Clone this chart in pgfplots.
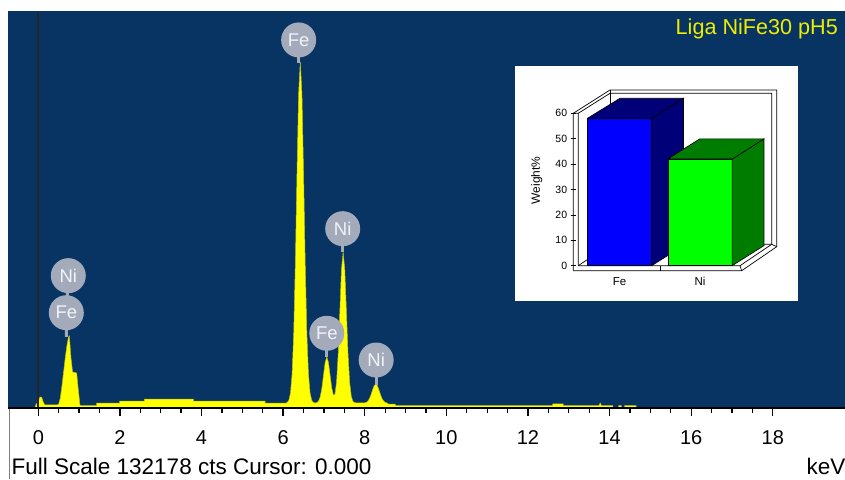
\documentclass[border=0pt]{standalone}
\usepackage{pgfplots}
\pgfplotsset{compat=1.18}
\usepackage{fontspec}
\setmainfont{Liberation Sans}
\definecolor{bgblue}{RGB}{8,52,100}
\definecolor{specyellow}{RGB}{255,255,0}
\definecolor{specedge}{RGB}{190,190,30}
\definecolor{lblgrey}{RGB}{163,171,187}
\definecolor{lbltext}{RGB}{240,243,247}
\definecolor{titleyellow}{RGB}{238,238,0}
\definecolor{feblue}{RGB}{0,0,255}
\definecolor{fedark}{RGB}{0,0,120}
\definecolor{nigreen}{RGB}{0,255,0}
\definecolor{nidark}{RGB}{0,125,0}
\tikzset{lbl/.style={circle, fill=lblgrey, text=lbltext, minimum size=35pt, inner sep=0pt, font=\fontsize{18.5}{20}\selectfont},
         stem/.style={lblgrey, line width=3pt}}
\pgfplotsset{frame/.style={black, line width=0.7pt, mark=none}}
\begin{document}
\begin{tikzpicture}
\useasboundingbox (0pt,0pt) rectangle (845pt,479pt);
\fill[white] (0pt,0pt) rectangle (845pt,479pt);
\begin{axis}[
  at={(8pt,71pt)}, anchor=south west,
  width=837pt, height=397pt, scale only axis,
  xmin=-0.743, xmax=19.77, ymin=0, ymax=132178,
  axis background/.style={fill=bgblue},
  axis line style={draw=none},
  xtick pos=left,
  xtick={0,2,...,18}, minor x tick num=3,
  tick align=outside, major tick length=8pt, minor tick length=5pt,
  xtick style={black, line width=1.3pt},
  ytick=\empty,
  xticklabel style={font=\fontsize{20}{22}\selectfont, anchor=base, inner sep=0pt, yshift=-28pt},
  /pgf/number format/assume math mode=true,
]
\addplot[fill=specyellow, draw=specedge, line width=0.5pt] table {
x y
-0.09 0
-0.06 1000
0.00 2330
0.04 3660
0.08 3660
0.12 2000
0.16 1000
0.46 1000
0.50 1300
0.54 3330
0.58 7330
0.62 12000
0.66 16650
0.70 20650
0.74 23650
0.76 24000
0.80 16650
0.84 12000
0.94 11650
0.98 6000
1.02 1000
1.04 830
1.43 830
1.43 1600
1.99 1600
1.99 2260
2.60 2260
2.60 2930
3.80 2930
3.80 2260
5.56 2260
5.56 1600
6.06 1600
6.10 1865
6.14 2565
6.18 4930
6.22 11290
6.26 25040
6.30 48350
6.34 78190
6.38 104560
6.42 115220
6.46 104560
6.50 78190
6.54 48350
6.58 25040
6.62 11290
6.66 4930
6.70 2565
6.74 1865
6.78 1665
6.83 1830
6.87 2330
6.91 3730
6.95 6630
6.99 10960
7.03 15180
7.07 16980
7.11 15180
7.15 10960
7.19 6730
7.23 4300
7.27 4530
7.31 8620
7.35 17980
7.39 32170
7.43 46050
7.47 51950
7.51 46050
7.55 32170
7.59 17980
7.63 8460
7.67 3860
7.71 2230
7.75 1760
7.99 1665
8.03 1830
8.07 2200
8.11 2960
8.15 4260
8.19 5930
8.23 7390
8.27 7990
8.31 7390
8.35 5930
8.39 4260
8.43 2960
8.47 2200
8.51 1830
8.55 1665
8.58 1330
8.74 1330
8.76 830
12.60 830
12.61 1400
12.86 1400
12.87 830
13.74 830
13.77 1660
13.80 830
14.08 830
14.08 0
14.22 0
14.22 830
14.29 830
14.29 0
14.37 0
14.37 830
14.65 830
14.65 0
19.77 0
} \closedcycle;
\draw[black!85, line width=2pt] (axis cs:0,0) -- (axis cs:0,131500);
\draw[black, line width=1.5pt] (rel axis cs:0,0) -- (rel axis cs:1,0);
% stems
\draw[stem] (axis cs:6.38,122540) -- (axis cs:6.38,114900);
\draw[stem] (axis cs:7.46,59700) -- (axis cs:7.46,51950);
\draw[stem] (axis cs:7.07,24880) -- (axis cs:7.07,16980);
\draw[stem] (axis cs:8.28,15980) -- (axis cs:8.28,7660);
\draw[stem] (axis cs:0.735,44060) -- (axis cs:0.686,31730) -- (axis cs:0.686,23640);
% labels
\node[lbl] at (axis cs:6.38,122540) {Fe};
\node[lbl] at (axis cs:7.46,59700) {Ni};
\node[lbl] at (axis cs:7.07,24880) {Fe};
\node[lbl] at (axis cs:8.28,15980) {Ni};
\node[lbl] at (axis cs:0.686,31730) {Fe};
\node[lbl] at (axis cs:0.735,44060) {Ni};
\end{axis}
\node[anchor=base east, inner sep=0pt, text=titleyellow, font=\fontsize{21.6}{24}\selectfont] at (838pt,444pt) {Liga NiFe30 pH5};
\node[anchor=base west, inner sep=0pt, font=\fontsize{22.5}{24}\selectfont] at (11.5pt,4.7pt) {Full Scale 132178 cts Cursor: 0.000};
\node[anchor=base west, inner sep=0pt, font=\fontsize{22.5}{24}\selectfont] at (806.5pt,4.7pt) {keV};
\draw[gray, line width=1pt] (9.3pt,0pt) -- (9.3pt,70pt);
% inset
\fill[white] (515pt,178.3pt) rectangle (798pt,413pt);
\begin{axis}[
  at={(573.3pt,208.3pt)}, anchor=south west,
  width=203.4pt, height=180.7pt, scale only axis,
  xmin=-0.574, xmax=1.953, ymin=-1.97, ymax=69.17,
  axis line style={draw=none},
  clip=false,
  ytick={0,10,...,60}, ytick pos=left,
  tick align=center, major tick length=5pt,
  ytick style={black, line width=0.6pt},
  xtick={0,1}, xticklabels={Fe,Ni}, xtick style={draw=none},
  yticklabel style={font=\fontsize{10.5}{12}\selectfont, inner sep=0pt, xshift=-3.5pt},
  xticklabel style={font=\fontsize{11.5}{13}\selectfont, inner sep=0pt, yshift=-4pt},
  ylabel={Weight\%},
  ylabel style={font=\fontsize{12}{14}\selectfont, at={(axis description cs:-0.18,0.5)}, anchor=center},
  /pgf/number format/assume math mode=true,
]
\addplot[frame] coordinates {(-0.574,-1.97) (-0.574,60) (-0.118,69.17) (1.953,69.17) (1.953,7.48) (1.518,-1.97) (-0.574,-1.97)};
\addplot[frame] coordinates {(-0.574,60) (-0.512,60) (-0.512,0) (1.497,0) (1.518,-1.97)};
\addplot[frame] coordinates {(-0.512,60) (-0.118,67.87) (1.891,67.87) (1.891,8.43) (1.497,0)};
\addplot[frame] coordinates {(-0.512,0) (-0.118,8.43) (1.891,8.43) (1.953,7.48)};
\addplot[frame] coordinates {(-0.118,69.17) (-0.118,8.43)};
\addplot[frame] coordinates {(0.503,0) (0.503,-1.97)};
% Fe bar
\addplot[ybar, bar width=0.8, fill=feblue, draw=black, line width=0.6pt] coordinates {(0,58)};
\addplot[fill=fedark, draw=black, line width=0.6pt] coordinates {(0.4,0) (0.795,7.9) (0.795,65.9) (0.4,58) (0.4,0)};
\addplot[fill=fedark, draw=black, line width=0.6pt] coordinates {(-0.4,58) (0.4,58) (0.795,65.9) (0.005,65.9) (-0.4,58)};
% Ni bar
\addplot[ybar, bar width=0.8, fill=nigreen, draw=black, line width=0.6pt] coordinates {(1,42)};
\addplot[fill=nidark, draw=black, line width=0.6pt] coordinates {(1.4,0) (1.795,7.9) (1.795,49.9) (1.4,42) (1.4,0)};
\addplot[fill=nidark, draw=black, line width=0.6pt] coordinates {(0.6,42) (1.4,42) (1.795,49.9) (0.995,49.9) (0.6,42)};
\end{axis}
\end{tikzpicture}
\end{document}
